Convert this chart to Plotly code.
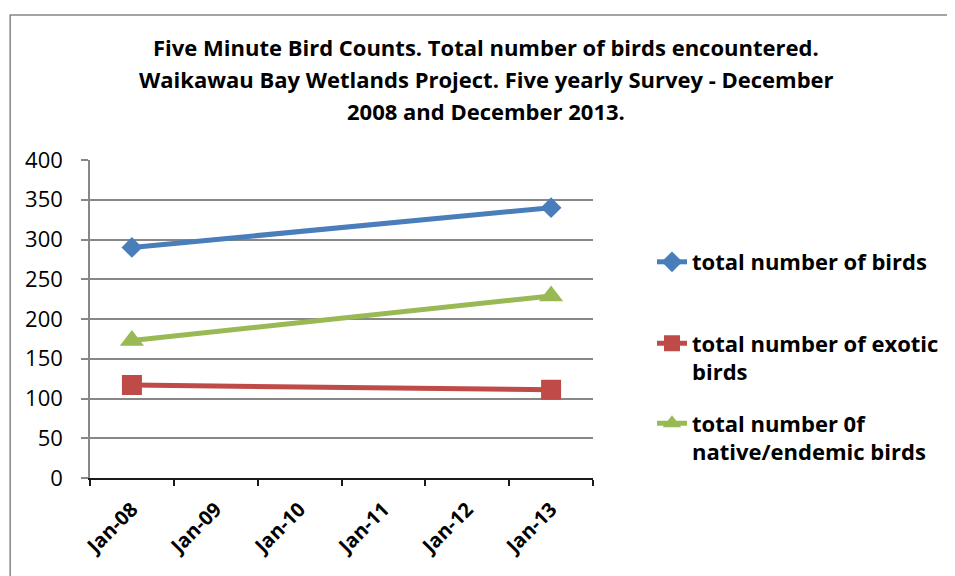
import plotly.graph_objects as go

# categories on the date axis (only the first and last have survey data)
categories = ["Jan-08", "Jan-09", "Jan-10", "Jan-11", "Jan-12", "Jan-13"]
survey_dates = ["Jan-08", "Jan-13"]

total_birds = [290, 340]
exotic_birds = [117, 111]
native_birds = [173, 229]

series_names = [
    "total number of birds",
    "total number of exotic<br>birds",
    "total number 0f<br>native/endemic birds",
]

title_lines = [
    "Five Minute Bird Counts. Total number of birds encountered.",
    "Waikawau Bay Wetlands Project. Five yearly Survey - December",
    "2008 and December 2013.",
]

y_ticks = [0, 50, 100, 150, 200, 250, 300, 350, 400]

FONT = "Open Sans"
OFF = 8  # page body margin
W, H = 955 - OFF, 576 - OFF
# plot area in page pixels
L, R, T, B = 90, 594, 160, 478


def px_x(p):
    return (p - L) / (R - L)


def px_y(p):
    return (B - p) / (B - T)


fig = go.Figure()

styles = [
    dict(color="#4A7EBB", symbol="diamond", size=16),
    dict(color="#BE4B48", symbol="square", size=20),
    dict(color="#98B954", symbol="triangle-up", size=21),
]
values = [total_birds, exotic_birds, native_birds]
legends = ["legend", "legend2", "legend3"]

for name, vals, st, lg in zip(series_names, values, styles, legends):
    fig.add_trace(go.Scatter(
        x=survey_dates, y=vals, name=name, mode="lines+markers",
        line=dict(color=st["color"], width=5),
        marker=dict(symbol=st["symbol"], size=st["size"], color=st["color"]),
        legend=lg,
    ))

legend_style = dict(
    font=dict(family=FONT, size=22, color="black", weight="bold"),
    bgcolor="rgba(0,0,0,0)", borderwidth=0, xanchor="left", yanchor="middle",
    valign="top", itemwidth=30,
)

fig.update_layout(
    width=W, height=H,
    margin=dict(l=L - OFF, r=W - (R - OFF), t=T - OFF, b=H - (B - OFF), pad=0),
    paper_bgcolor="white", plot_bgcolor="white",
    font=dict(family=FONT, color="black"),
    showlegend=True,
    legend=dict(x=px_x(652), y=px_y(262), **legend_style),
    legend2=dict(x=px_x(652), y=px_y(358), **legend_style),
    legend3=dict(x=px_x(652), y=px_y(438), **legend_style),
    xaxis=dict(
        type="category", categoryorder="array", categoryarray=categories,
        range=[-0.5, len(categories) - 0.5], tickson="boundaries",
        showgrid=False, showline=True, linecolor="#1a1a1a", linewidth=1.5,
        ticks="outside", ticklen=6, tickcolor="#1a1a1a", tickwidth=1.5,
        tickangle=-45, ticklabelstandoff=10,
        tickfont=dict(family=FONT, size=20, color="black", weight="bold"),
        zeroline=False,
    ),
    yaxis=dict(
        range=[0, 400], tickvals=y_ticks, showgrid=True,
        gridcolor="#878787", gridwidth=1.5, showline=True,
        linecolor="#878787", linewidth=1.5, ticks="outside", ticklen=7,
        tickcolor="#878787", tickwidth=1.5, ticklabelstandoff=14,
        tickfont=dict(family=FONT, size=22, color="black"), zeroline=False,
    ),
)

for i, line in enumerate(title_lines):
    fig.add_annotation(
        text="<b>" + line + "</b>", xref="paper", yref="paper",
        x=px_x(487), y=px_y(47 + 32 * i), xanchor="center", yanchor="middle",
        showarrow=False, font=dict(family=FONT, size=22, color="black"),
    )

# chart frame (runs off the right and bottom edges)
fig.add_shape(
    type="rect", xref="paper", yref="paper",
    x0=px_x(10), x1=px_x(980), y0=px_y(15), y1=px_y(600),
    line=dict(color="#868686", width=1.5), layer="below",
)

fig.write_html("out.html")
